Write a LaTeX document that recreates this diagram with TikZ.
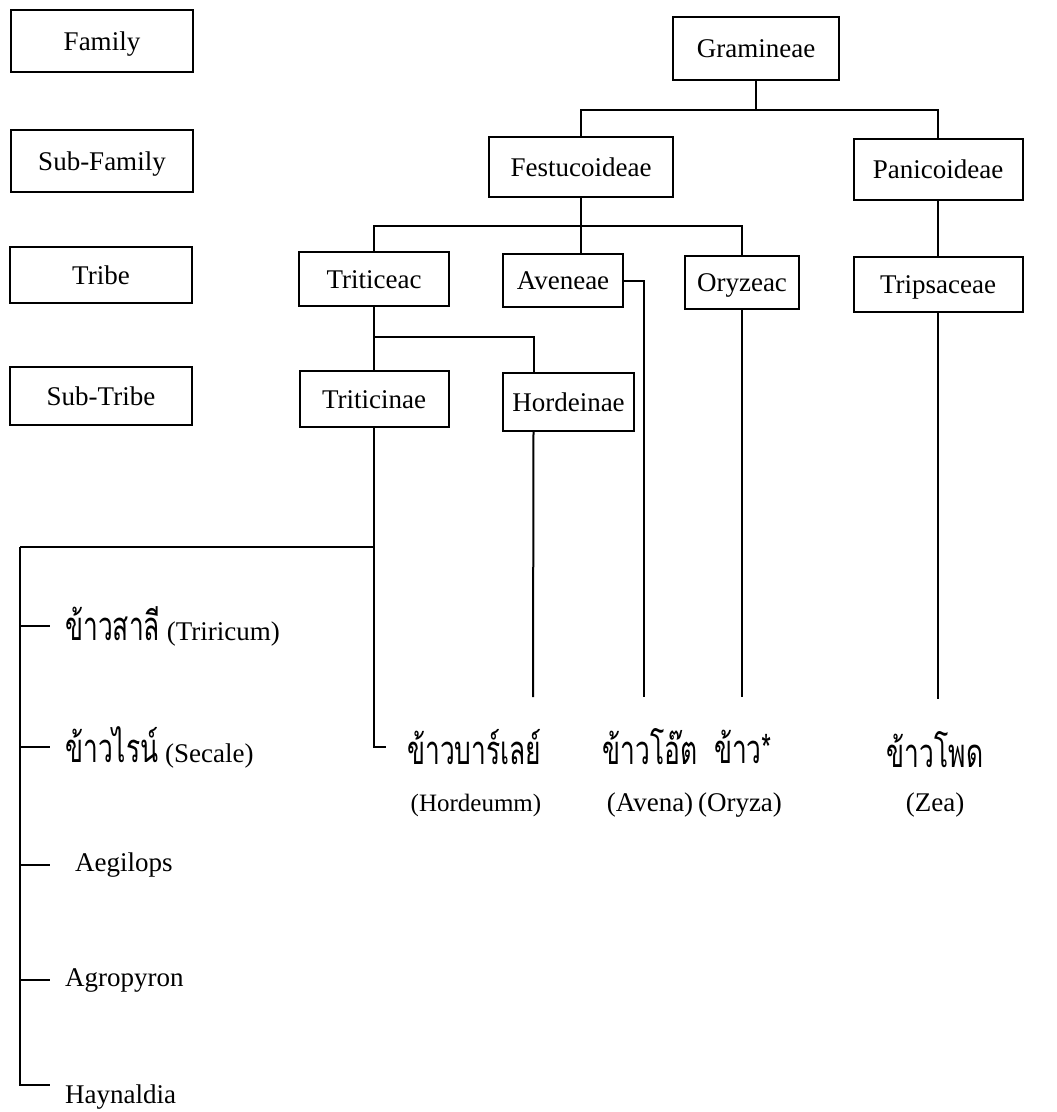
\documentclass[tikz,border=0pt]{standalone}
\usepackage{fontspec}
\setmainfont{Liberation Serif}
\newfontfamily\thaifont[Script=Thai,FakeStretch=0.66]{Loma}

\tikzset{
  box/.style={draw, line width=2pt, inner sep=0pt, text height=18pt, text depth=0pt,
    font=\fontsize{27}{32}\selectfont},
  lbl/.style={inner sep=0pt, font=\fontsize{27}{32}\selectfont},
  th/.style={inner sep=0pt, font=\fontsize{40}{44}\selectfont\thaifont},
  link/.style={line width=2pt}
}

\begin{document}
\begin{tikzpicture}[x=1pt, y=-1pt]
\useasboundingbox (0,0) rectangle (1057,1112);
% rank boxes on the left
\node [box, minimum width=182pt, minimum height=62pt] (fam) at (102,41) {Family};
\node [box, minimum width=182pt, minimum height=62pt] (subfam) at (102,161) {Sub-Family};
\node [box, minimum width=182pt, minimum height=56pt] (tribe) at (101,275) {Tribe};
\node [box, minimum width=182pt, minimum height=58pt] (subtribe) at (101,396) {Sub-Tribe};
% tree
\node [box, minimum width=166pt, minimum height=63pt] (gram) at (756,48.5) {Gramineae};
\node [box, minimum width=184pt, minimum height=60pt] (fest) at (581,167) {Festucoideae};
\node [box, minimum width=169pt, minimum height=61pt] (pani) at (938,169.5) {Panicoideae};
\node [box, minimum width=150pt, minimum height=54pt] (tric) at (374,279) {Triticeac};
\node [box, minimum width=120pt, minimum height=53pt] (ave) at (563,280.5) {Aveneae};
\node [box, minimum width=114pt, minimum height=53pt] (oryz) at (742,282.5) {Oryzeac};
\node [box, minimum width=169pt, minimum height=55pt] (trip) at (938,284.5) {Tripsaceae};
\node [box, minimum width=149pt, minimum height=56pt] (trin) at (374,399) {Triticinae};
\node [box, minimum width=131pt, minimum height=58pt] (hord) at (568.5,402) {Hordeinae};

\coordinate (j1) at (756,110);
\coordinate (j2) at (581,226);
\coordinate (j3) at (374,337);
\coordinate (j4) at (374,547);
\coordinate (j5) at (20,547);
\coordinate (bj) at (386,747);
\coordinate (hend) at (533,697);
\coordinate (aend) at (644,697);
\coordinate (oend) at (742,697);
\coordinate (zend) at (938,699);

\draw [link] (gram.south) -- (j1);
\draw [link] (fest.north) |- (j1) -| (pani.north);
\draw [link] (fest.south) -- (j2);
\draw [link] (tric.north) |- (j2) -| (oryz.north);
\draw [link] (fest.south |- j2) -- (fest.south |- ave.north);
\draw [link] (pani.south) -- (trip.north);
\draw [link] (tric.south) -- (trin.north);
\draw [link] (j3) -| ([xshift=-35pt]hord.north);
\draw [link] (trin.south) |- (bj);
\draw [link] (j4) -- (j5);
\draw [link] ([xshift=-35pt]hord.south) -- (hend);
\draw [link] (ave.east) -| (aend);
\draw [link] (oryz.south) -- (oend);
\draw [link] (trip.south) -- (zend);

% genera
\node [lbl, anchor=west] (tri) at (50,626) {\hspace{15pt}{\thaifont\fontsize{40}{44}\selectfont ข้าวสาลี} (Triricum)};
\node [lbl, anchor=west] (sec) at (50,747) {\hspace{15pt}{\thaifont\fontsize{40}{44}\selectfont ข้าวไรน์} (Secale)};
\node [lbl, anchor=west] (aeg) at (50,865) {\hspace{25pt}Aegilops};
\node [lbl, anchor=west] (agr) at (50,980) {\hspace{15pt}Agropyron};
\node [lbl, anchor=west] (hay) at (50,1097) {\hspace{15pt}Haynaldia};
\draw [link] (j5) |- ([yshift=12pt]hay.west);
\foreach \g in {tri,sec,aeg,agr}
  \draw [link] (j5 |- \g.west) -- (\g.west);

\node [th, anchor=west] (barley) at (407,747) {ข้าวบาร์เลย์};
\node [th] (oat) at (650,747) {ข้าวโอ๊ต};
\node [th] (rice) at (743,747) {ข้าว*};
\node [th] (corn) at (935,750) {ข้าวโพด};
\node [lbl, font=\fontsize{25}{30}\selectfont] (hordeum) at (476,805) {(Hordeumm)};
\node [lbl] (avena) at (650,805) {(Avena)};
\node [lbl] (oryza) at (740,805) {(Oryza)};
\node [lbl] (zea) at (935,805) {(Zea)};
\end{tikzpicture}
\end{document}
